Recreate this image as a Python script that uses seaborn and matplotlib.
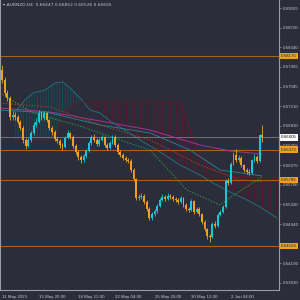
import numpy as np
import pandas as pd
import matplotlib
matplotlib.use("Agg")
import matplotlib.pyplot as plt
import matplotlib.transforms as mtransforms
import seaborn as sns

# ---------------- data ----------------
title = "AUDNZD,H4  0.66647 0.66852 0.66526 0.66605"
first_open = 0.67903
closes = [0.67711, 0.67461, 0.67364, 0.66999, 0.67038, 0.66999, 0.66903, 0.66788, 0.66557, 0.66441,
          0.66557, 0.66691, 0.66845, 0.66903, 0.67076, 0.66980, 0.67076, 0.66941, 0.66788, 0.66711,
          0.66576, 0.66538, 0.66461, 0.66422, 0.66595, 0.66691, 0.66615, 0.66441, 0.66326, 0.66230,
          0.66172, 0.66249, 0.66345, 0.66499, 0.66615, 0.66557, 0.66480, 0.66557, 0.66615, 0.66461,
          0.66403, 0.66499, 0.66615, 0.66461, 0.66326, 0.66268, 0.66211, 0.66172, 0.66153, 0.65980,
          0.65807, 0.65442, 0.65461, 0.65480, 0.65365, 0.65230, 0.65057, 0.65134, 0.65192, 0.65288,
          0.65403, 0.65461, 0.65422, 0.65480, 0.65461, 0.65422, 0.65403, 0.65365, 0.65442, 0.65307,
          0.65230, 0.65211, 0.65384, 0.65172, 0.65230, 0.65134, 0.64980, 0.64845, 0.64711, 0.64692,
          0.64942, 0.64903, 0.65115, 0.65172, 0.65268, 0.65768, 0.65730, 0.66095, 0.66268, 0.66172,
          0.66211, 0.66076, 0.65980, 0.65941, 0.65930, 0.66172, 0.66230, 0.66153, 0.66647, 0.66605]
highs = [0.67990, 0.67760, 0.67520, 0.67400, 0.67110, 0.67090, 0.67040, 0.66950, 0.66820, 0.66600,
         0.66600, 0.66730, 0.66900, 0.66980, 0.67130, 0.67110, 0.67120, 0.67100, 0.66970, 0.66830,
         0.66740, 0.66620, 0.66580, 0.66500, 0.66630, 0.66740, 0.66720, 0.66650, 0.66480, 0.66360,
         0.66260, 0.66290, 0.66380, 0.66540, 0.66660, 0.66680, 0.66590, 0.66600, 0.66660, 0.66640,
         0.66490, 0.66530, 0.66650, 0.66650, 0.66490, 0.66360, 0.66300, 0.66250, 0.66210, 0.66190,
         0.66010, 0.65830, 0.65520, 0.65530, 0.65510, 0.65400, 0.65260, 0.65170, 0.65230, 0.65320,
         0.65440, 0.65520, 0.65500, 0.65530, 0.65510, 0.65490, 0.65460, 0.65440, 0.65480, 0.65470,
         0.65340, 0.65270, 0.65420, 0.65410, 0.65270, 0.65260, 0.65160, 0.65010, 0.64870, 0.64740,
         0.64980, 0.64990, 0.65150, 0.65210, 0.65300, 0.65800, 0.65830, 0.66130, 0.66320, 0.66380,
         0.66260, 0.66240, 0.66100, 0.66010, 0.65990, 0.66200, 0.66290, 0.66260, 0.66680, 0.66852]
lows = [0.67650, 0.67400, 0.67300, 0.66950, 0.66940, 0.66950, 0.66860, 0.66740, 0.66500, 0.66380,
        0.66420, 0.66520, 0.66660, 0.66800, 0.66880, 0.66940, 0.66950, 0.66900, 0.66740, 0.66660,
        0.66530, 0.66490, 0.66410, 0.66360, 0.66400, 0.66570, 0.66580, 0.66400, 0.66290, 0.66180,
        0.66110, 0.66140, 0.66220, 0.66320, 0.66470, 0.66520, 0.66440, 0.66450, 0.66530, 0.66420,
        0.66360, 0.66380, 0.66480, 0.66430, 0.66290, 0.66230, 0.66170, 0.66130, 0.66110, 0.65940,
        0.65760, 0.65400, 0.65400, 0.65420, 0.65330, 0.65190, 0.65010, 0.65020, 0.65100, 0.65160,
        0.65260, 0.65380, 0.65390, 0.65400, 0.65430, 0.65390, 0.65370, 0.65330, 0.65340, 0.65270,
        0.65190, 0.65170, 0.65190, 0.65140, 0.65150, 0.65100, 0.64950, 0.64810, 0.64660, 0.64600,
        0.64670, 0.64870, 0.64880, 0.65090, 0.65150, 0.65250, 0.65690, 0.65710, 0.66070, 0.66140,
        0.66130, 0.66040, 0.65940, 0.65900, 0.65890, 0.65910, 0.66140, 0.66120, 0.66130, 0.66526]

# Ichimoku cloud spans (bar position, price)
span_a_x = [4.9, 8.7, 11.8, 16.3, 20.2, 23.2, 25.9, 29.7, 33.5, 37.3, 41.1, 44.9, 52.5, 60.1, 67.7,
            75.3, 80.2, 86.7, 93.2, 98.1, 104.6]
span_a = [0.67095, 0.67326, 0.67461, 0.67518, 0.67653, 0.67672, 0.67557, 0.67364, 0.67134, 0.67076,
          0.66922, 0.66807, 0.66557, 0.66326, 0.66076, 0.65884, 0.65730, 0.65557, 0.65403, 0.65268, 0.65057]
span_b = [0.66557, 0.66557, 0.66557, 0.66557, 0.66557, 0.67095, 0.67180, 0.67287, 0.67287, 0.67287,
          0.67287, 0.67287, 0.67287, 0.67287, 0.67287, 0.66230, 0.65980, 0.65865, 0.65850, 0.65835, 0.65826]

# indicator lines (bar position, price)
magenta_x = [-0.76, 18.3, 37.3, 56.3, 75.3, 86.7, 98.9]
magenta = [0.67172, 0.67095, 0.66922, 0.66749, 0.66461, 0.66345, 0.66288]
teal_x = [-0.76, 18.3, 37.3, 56.3, 71.5, 82.9, 98.9]
teal = [0.67134, 0.67076, 0.66845, 0.66691, 0.66364, 0.65980, 0.65865]
green_x = [-0.76, 11.8, 30.8, 44.9, 56.3, 70.3, 82.9, 89.3, 98.9]
green = [0.67461, 0.67076, 0.66807, 0.66557, 0.66364, 0.65595, 0.65307, 0.65538, 0.65845]
red_x = [-0.76, 18.3, 37.3, 56.3, 75.3, 90.5, 98.9]
red = [0.67268, 0.67191, 0.66845, 0.66557, 0.66076, 0.65788, 0.65749]

levels = [0.68175, 0.66373, 0.65786, 0.64524]
current_price = 0.66605
yticks = [0.69095, 0.68720, 0.68340, 0.67965, 0.67585, 0.67210, 0.66830, 0.66455,
          0.66075, 0.65700, 0.65320, 0.64940, 0.64190, 0.63810]
xtick_pos = [0, 14, 29, 43, 58, 72, 87]
xtick_labels = ["11 May 2023", "15 May 20:00", "18 May 12:00", "22 May 04:00",
                "25 May 20:00", "30 May 12:00", "2 Jun 04:00"]

# ---------------- style ----------------
BG = "#2b2d3a"
FG = "#c4c4c8"
UP = "#18c8d8"
DN = "#f0a020"
FONT = ["Liberation Sans", "DejaVu Sans"]
sns.set_style("dark", rc={"axes.facecolor": BG, "figure.facecolor": BG,
                          "axes.edgecolor": "#9a9aa0", "axes.grid": False})
plt.rcParams["font.family"] = FONT
plt.rcParams["hatch.linewidth"] = 0.6

fig = plt.figure(figsize=(3, 3), dpi=100)
ax = fig.add_axes([0, 10 / 300, 279 / 300, 290 / 300])
ax.set_facecolor(BG)

n = len(closes)
x = np.arange(n)
opens = np.array([first_open] + closes[:-1])
closes_a = np.array(closes)

# cloud
sa = np.array(span_a)
sb = np.array(span_b)
ax.fill_between(span_a_x, sa, sb, where=sa >= sb, interpolate=True,
                facecolor="none", edgecolor="#1a4f5a", hatch="||||||", lw=0)
ax.fill_between(span_a_x, sa, sb, where=sa < sb, interpolate=True,
                facecolor="none", edgecolor="#4e1a2a", hatch="||||||", lw=0)
ax.plot(span_a_x, sa, color="#1f6f7a", lw=0.7)
ax.plot(span_a_x, sb, color="#5e1c2c", lw=0.7)

# horizontal levels
for lv in levels:
    ax.axhline(lv, color="#a8601e", lw=0.8, zorder=2)
ax.axhline(current_price, color="#8c8c94", lw=0.5, zorder=2)

# indicator lines
sns.lineplot(x=magenta_x, y=magenta, ax=ax, color="#a82f96", lw=0.7)
sns.lineplot(x=teal_x, y=teal, ax=ax, color="#2a8593", lw=0.6)
sns.lineplot(x=green_x, y=green, ax=ax, color="#2e9a3a", lw=0.7, linestyle=(0, (1.5, 1.5)))
sns.lineplot(x=red_x, y=red, ax=ax, color="#a8402a", lw=0.7, linestyle=(0, (1.5, 1.5)))

# candles
colors = np.where(closes_a >= opens, UP, DN)
ax.vlines(x, lows, highs, colors=colors, lw=0.6, zorder=4)
body = closes_a - opens
body = np.where(np.abs(body) < 0.00003, 0.00003, body)
ax.bar(x, body, bottom=opens, width=0.72, color=colors, edgecolor="none", zorder=5)

# axes
ax.set_xlim(-0.76, 105.32)
ax.set_ylim(0.63672, 0.69249)
ax.yaxis.tick_right()
ax.set_yticks(yticks)
ax.set_yticklabels([f"{v:.5f}" for v in yticks], fontsize=3.2, color=FG)
ax.tick_params(axis="y", length=1.5, width=0.5, color="#9a9aa0", pad=1)
ax.set_xticks(xtick_pos)
ax.set_xticklabels(xtick_labels, fontsize=3.2, color=FG, ha="left")
ax.tick_params(axis="x", length=2, width=0.5, color="#9a9aa0", pad=1.5)
ax.spines["top"].set_visible(False)
for s in ["left", "right", "bottom"]:
    ax.spines[s].set_color("#9a9aa0")
    ax.spines[s].set_linewidth(0.8)
ax.set_xlabel("")
ax.set_ylabel("")

trans = mtransforms.blended_transform_factory(ax.transAxes, ax.transData)
for lv in levels:
    ax.text(1.006, lv, f"{lv:.5f}", transform=trans, fontsize=3.2, color="#2b2d3a",
            va="center", ha="left", zorder=10, clip_on=False,
            bbox=dict(boxstyle="square,pad=0.25", fc="#f0a020", ec="none"))
ax.text(1.006, current_price, f"{current_price:.5f}", transform=trans, fontsize=3.2,
        color="#000000", va="center", ha="left", zorder=10, clip_on=False,
        bbox=dict(boxstyle="square,pad=0.25", fc="#ffffff", ec="none"))

fig.text(3 / 300, 1 - 5 / 300, "\u25be " + title, fontsize=3.2, color=FG, va="center",
         ha="left", family=["DejaVu Sans"])

fig.savefig("out.png", dpi=100, facecolor=BG)
